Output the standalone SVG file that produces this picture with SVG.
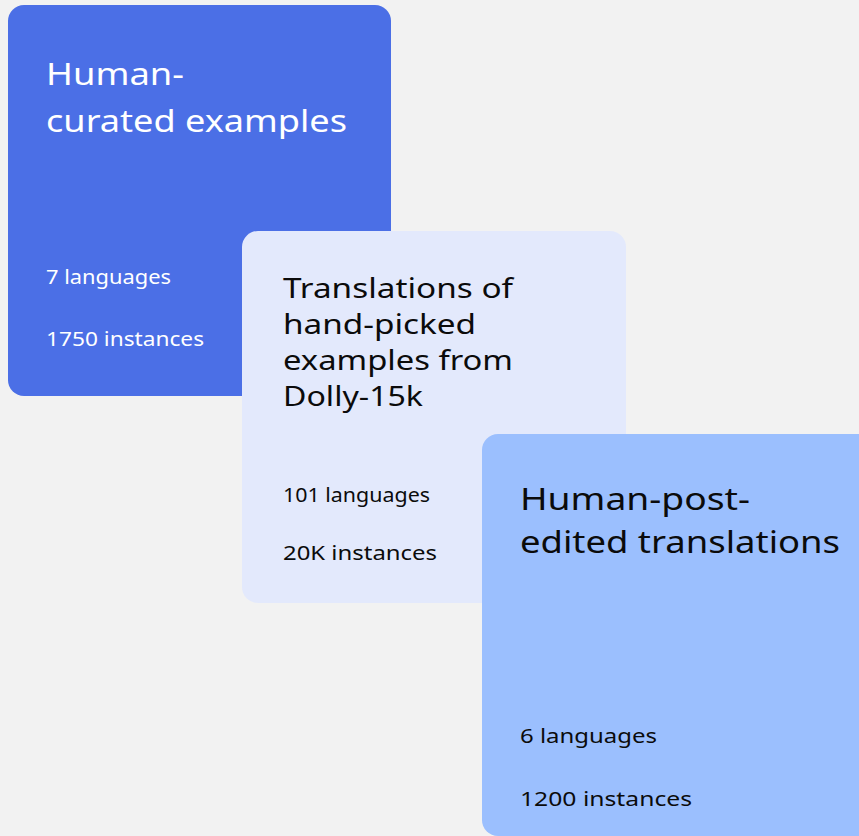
<svg xmlns="http://www.w3.org/2000/svg" width="859" height="836" viewBox="0 0 859 836">
<style>
text{font-family:"Noto Sans","Open Sans",sans-serif}
.t{font-size:31px}
.t2{font-size:28px}
.b{font-size:20px}
.w{fill:#ffffff}
.k{fill:#0b0b0b}
</style>
<rect width="859" height="836" fill="#f2f2f2"/>
<g id="card1">
<rect x="8" y="5" width="383" height="391" rx="16" fill="#4b6fe6"/>
<text class="t w" x="46" y="85" textLength="138" lengthAdjust="spacingAndGlyphs">Human-</text>
<text class="t w" x="46" y="132" textLength="301" lengthAdjust="spacingAndGlyphs">curated examples</text>
<text class="b w" x="46" y="284" textLength="125" lengthAdjust="spacingAndGlyphs">7 languages</text>
<text class="b w" x="46" y="346" textLength="158" lengthAdjust="spacingAndGlyphs">1750 instances</text>
</g>
<g id="card2">
<rect x="242" y="231" width="384" height="372" rx="16" fill="#e3e9fc"/>
<text class="t2 k" x="283" y="298" textLength="230" lengthAdjust="spacingAndGlyphs">Translations of</text>
<text class="t2 k" x="283" y="334" textLength="193" lengthAdjust="spacingAndGlyphs">hand-picked</text>
<text class="t2 k" x="283" y="370" textLength="230" lengthAdjust="spacingAndGlyphs">examples from</text>
<text class="t2 k" x="283" y="406" textLength="140" lengthAdjust="spacingAndGlyphs">Dolly-15k</text>
<text class="b k" x="283" y="502" textLength="147" lengthAdjust="spacingAndGlyphs">101 languages</text>
<text class="b k" x="283" y="560" textLength="154" lengthAdjust="spacingAndGlyphs">20K instances</text>
</g>
<g id="card3">
<rect x="482" y="434" width="400" height="402" rx="16" fill="#9bbffe"/>
<text class="t k" x="520" y="510" textLength="230" lengthAdjust="spacingAndGlyphs">Human-post-</text>
<text class="t k" x="520" y="553" textLength="320" lengthAdjust="spacingAndGlyphs">edited translations</text>
<text class="b k" x="520" y="743" textLength="137" lengthAdjust="spacingAndGlyphs">6 languages</text>
<text class="b k" x="520" y="806" textLength="172" lengthAdjust="spacingAndGlyphs">1200 instances</text>
</g>
<g id="connectors"/>
</svg>
